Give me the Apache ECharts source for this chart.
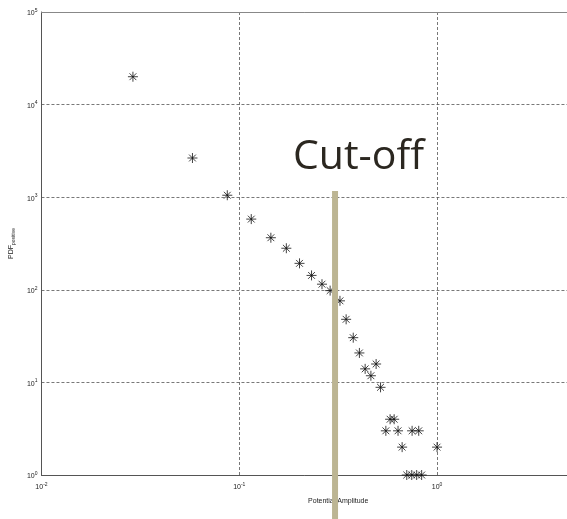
<!DOCTYPE html>
<html>
<head>
<meta charset="utf-8">
<script src="https://cdn.jsdelivr.net/npm/echarts@6/dist/echarts.min.js"></script>
<style>html,body{margin:0;padding:0;background:#fff;}#c{width:567px;height:519px;}</style>
</head>
<body>
<div id="c"></div>
<script>
// Data
var xValues = [0.029, 0.058, 0.087, 0.115, 0.1445, 0.173, 0.2017, 0.232, 0.262, 0.288, 0.323, 0.347, 0.377, 0.405, 0.433, 0.492, 0.463, 0.518, 0.579, 0.607, 0.551, 0.635, 0.748, 0.808, 0.666, 1.0, 0.703, 0.745, 0.789, 0.836];
var yValues = [20000, 2650, 1050, 580, 365, 281, 193, 143, 115, 98, 76, 48, 30.4, 20.8, 14.0, 15.8, 11.8, 8.85, 4, 4, 3, 3, 3, 3, 2, 2, 1, 1, 1, 1];
var xMin = 0.01, xMax = 4.54;   // visible part of the x axis (the picture is cropped on the right)
var yMin = 1, yMax = 100000;
var cutoffX = 0.305;
var cutoffTopY = 1170;
var xTickExp = {'-2': '-2', '-1': '-1', '0': '0'};
var yTickExp = {'0': '0', '1': '1', '2': '2', '3': '3', '4': '4', '5': '5'};
var xAxisTitle = 'Potential Amplitude';
var yAxisTitle = 'PDF';
var yAxisSub = 'positive';
var annotation = 'Cut-off';

var points = xValues.map(function (x, i) { return [x, yValues[i]]; });
var star = 'path://M0,5L10,5M5,0L5,10M1.6,1.6L8.4,8.4M8.4,1.6L1.6,8.4';

function expLabel(table) {
  return function (v) {
    var e = Math.log10(v);
    if (Math.abs(e - Math.round(e)) > 1e-6) return '';
    var s = table[String(Math.round(e))];
    return s === undefined ? '' : '{b|10}{e|' + s + '}';
  };
}
var richLabel = {
  b: {fontFamily: 'Liberation Sans', fontSize: 7, color: '#222', padding: [3, 0, 0, 0]},
  e: {fontFamily: 'Liberation Sans', fontSize: 5, color: '#222', padding: [0, 0, 3, 0]}
};

var chart = echarts.init(document.getElementById('c'), null, {renderer: 'canvas'});
var gridLine = {show: true, lineStyle: {color: '#555', width: 0.8, type: [3, 2]}};
chart.setOption({
  animation: false,
  backgroundColor: '#fff',
  grid: {left: 41, right: 0, top: 12, bottom: 44, show: false},
  xAxis: [{
    type: 'log', logBase: 10, min: xMin, max: xMax,
    axisLine: {show: true, lineStyle: {color: '#555', width: 1}},
    axisTick: {show: false},
    splitLine: {show: true, showMinLine: false, showMaxLine: false, lineStyle: gridLine.lineStyle},
    axisLabel: {margin: 6, formatter: expLabel(xTickExp), rich: richLabel, showMaxLabel: false},
    name: xAxisTitle, nameLocation: 'middle', nameGap: 23,
    nameTextStyle: {fontFamily: 'Liberation Sans', fontSize: 7, color: '#222', align: 'center', padding: [0, 0, 0, 68]}
  }, {
    type: 'log', logBase: 10, min: xMin, max: xMax, position: 'top',
    axisLine: {show: true, lineStyle: {color: '#888', width: 1}},
    axisTick: {show: false}, axisLabel: {show: false}, splitLine: {show: false}
  }],
  yAxis: {
    type: 'log', logBase: 10, min: yMin, max: yMax,
    axisLine: {show: true, lineStyle: {color: '#555', width: 1}},
    axisTick: {show: false},
    splitLine: gridLine,
    axisLabel: {margin: 4, formatter: expLabel(yTickExp), rich: richLabel},
    name: '{a|' + yAxisTitle + '}{s|' + yAxisSub + '}', nameLocation: 'middle', nameGap: 22, nameRotate: 90,
    nameTextStyle: {
      rich: {
        a: {fontFamily: 'Liberation Sans', fontSize: 7, color: '#222'},
        s: {fontFamily: 'Liberation Sans', fontSize: 5, color: '#222', padding: [4, 0, 0, 0]}
      }
    }
  },
  series: [{
    type: 'scatter',
    xAxisIndex: 0,
    data: points,
    symbol: star,
    symbolSize: 10,
    itemStyle: {color: 'none', borderColor: '#111', borderWidth: 1},
    z: 5
  }]
});

function placeAnnotations() {
  var top = chart.convertToPixel({xAxisIndex: 0, yAxisIndex: 0}, [cutoffX, cutoffTopY]);
  chart.setOption({
    graphic: [
      {type: 'rect', shape: {x: top[0] - 3, y: top[1], width: 6, height: 519 - top[1]},
       style: {fill: '#bcb593'}, z: 10},
      {type: 'text', left: 293, top: 137,
       style: {text: annotation, font: '41px "Open Sans"', fill: '#2b2720'}, z: 10}
    ]
  });
}
placeAnnotations();
</script>
</body>
</html>
